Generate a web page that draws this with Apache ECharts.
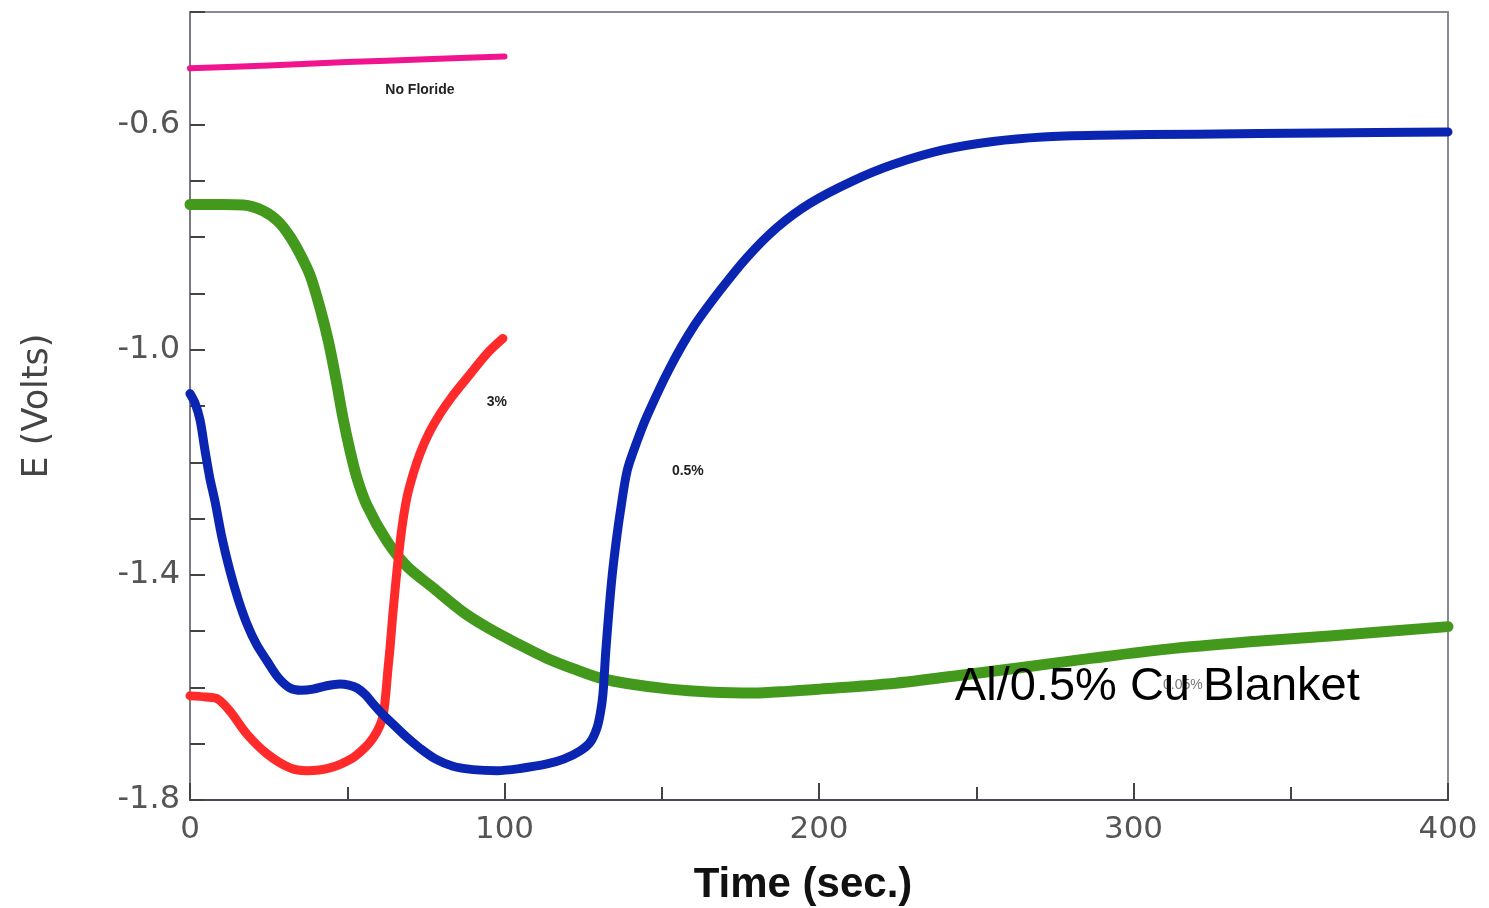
<!DOCTYPE html>
<html>
<head>
<meta charset="utf-8">
<script src="https://cdn.jsdelivr.net/npm/echarts@6/dist/echarts.min.js"></script>
<style>
html,body{margin:0;padding:0;background:#fff;}
#chart{width:1489px;height:908px;}
</style>
</head>
<body>
<div id="chart"></div>
<script>
// Time (sec.) / E (Volts) pairs
const noFluoride = [[0,-0.500],[25,-0.495],[50,-0.489],[75,-0.484],[100,-0.479]];

const cu005 = [[0,-0.742],[10,-0.742],[17,-0.743],[23.2,-0.753],[28,-0.772],[31.8,-0.799],
  [35,-0.830],[38.2,-0.868],[41.3,-0.925],[44,-0.985],[46.5,-1.055],[48.6,-1.120],[50.9,-1.180],
  [53.1,-1.228],[56.3,-1.277],[62.6,-1.340],[69,-1.385],[77.3,-1.423],[86.8,-1.466],[95,-1.495],
  [104,-1.522],[113.4,-1.548],[122,-1.567],[130.2,-1.583],[140,-1.594],[152.6,-1.603],
  [165,-1.608],[179,-1.610],[190,-1.607],[200.3,-1.603],[221.6,-1.594],[242.6,-1.580],
  [263.9,-1.565],[287,-1.548],[310.7,-1.532],[337,-1.519],[363.4,-1.508],[400,-1.492]];

const cu3 = [[0,-1.615],[5,-1.617],[8.6,-1.620],[12.7,-1.642],[18.1,-1.683],[24.5,-1.718],
  [31.8,-1.743],[37.2,-1.748],[44.5,-1.743],[51.8,-1.725],[56,-1.705],[58.2,-1.690],
  [60.2,-1.670],[61.4,-1.650],[62.2,-1.615],[62.9,-1.570],[63.6,-1.530],[64.5,-1.469],
  [65.8,-1.393],[67.3,-1.320],[69.0,-1.262],[71,-1.220],[73.1,-1.185],[76,-1.148],
  [79.5,-1.114],[83.5,-1.082],[88.1,-1.050],[94.4,-1.007],[99.5,-0.980]];

const cu05 = [[0,-1.078],[1.6,-1.095],[3.2,-1.125],[4.8,-1.180],[6.3,-1.228],[7.9,-1.268],
  [10.2,-1.335],[12.7,-1.393],[15.3,-1.443],[18.1,-1.487],[21.2,-1.524],[24.5,-1.553],
  [28,-1.582],[31.8,-1.601],[35.4,-1.605],[39.1,-1.603],[43.5,-1.597],[47.7,-1.594],
  [50.5,-1.596],[53.1,-1.601],[55.8,-1.613],[58.2,-1.629],[61.3,-1.648],[64.5,-1.665],
  [68.8,-1.688],[73.1,-1.708],[78,-1.727],[83.6,-1.740],[90,-1.746],[97.6,-1.748],
  [105,-1.744],[113.5,-1.736],[119,-1.727],[124,-1.713],[127.3,-1.697],[129.4,-1.672],
  [130.5,-1.645],[131.3,-1.612],[132.2,-1.536],[133.2,-1.465],[134.2,-1.403],[135.5,-1.341],
  [136.9,-1.285],[139.0,-1.215],[142,-1.165],[145.3,-1.118],[152.6,-1.032],[159.9,-0.961],
  [168.5,-0.895],[177.1,-0.836],[186.6,-0.783],[197.1,-0.740],[210.8,-0.700],[223.5,-0.671],
  [239.4,-0.645],[255.3,-0.630],[271.2,-0.622],[289.3,-0.619],[320,-0.617],[360,-0.615],
  [400,-0.613]];

const xTickLabels = [0,100,200,300,400];
const yTickLabels = [-0.6,-1.0,-1.4,-1.8];

// annotations: [text, x, y]
const annotations = [
  ['No Floride', 73.1, -0.538],
  ['3%', 97.6, -1.094],
  ['0.5%', 158.3, -1.215],
  ['0.05%', 315.7, -1.596]
];
const titleNote = ['Al/0.5% Cu Blanket', 243.2, -1.599];

const chart = echarts.init(document.getElementById('chart'));
const mk = (data, color, width) => ({
  type: 'line', data: data, showSymbol: false, smooth: 0.3,
  lineStyle: {color: color, width: width, cap: 'round', join: 'round'}, z: 3
});
chart.setOption({
  animation: false,
  backgroundColor: '#fff',
  grid: {left: 190, right: 41, top: 12, bottom: 108, show: true, borderColor: '#8a8a92', borderWidth: 2,
    containLabel: false, outerBoundsMode: 'none'},
  xAxis: {
    type: 'value', min: 0, max: 400, interval: 100,
    name: 'Time (sec.)', nameLocation: 'middle', nameGap: 64,
    nameTextStyle: {fontFamily: 'Liberation Sans', fontWeight: 'bold', fontSize: 42, color: '#111', padding: [0, 32, 0, 0]},
    axisLine: {show: true, lineStyle: {color: '#4a4a5a', width: 2}},
    axisTick: {show: true, inside: true, length: 17, lineStyle: {color: '#444', width: 2}},
    minorTick: {show: true, splitNumber: 2, length: 13, lineStyle: {color: '#444', width: 2}},
    splitLine: {show: false},
    axisLabel: {
      fontFamily: 'DejaVu Sans', fontSize: 31, color: '#555', margin: 14,
      formatter: v => xTickLabels.includes(v) ? String(v) : ''
    }
  },
  yAxis: {
    type: 'value', min: -1.8, max: -0.4, interval: 0.4,
    name: 'E (Volts)', nameLocation: 'middle', nameGap: 135, nameRotate: 90,
    nameTextStyle: {fontFamily: 'DejaVu Sans', fontSize: 35, color: '#444'},
    axisLine: {show: true, lineStyle: {color: '#7a7a82', width: 2}},
    axisTick: {show: true, inside: true, length: 15, lineStyle: {color: '#444', width: 2}},
    minorTick: {show: true, splitNumber: 4, length: 15, lineStyle: {color: '#444', width: 2}},
    splitLine: {show: false},
    axisLabel: {
      fontFamily: 'DejaVu Sans', fontSize: 32, color: '#555', margin: 10,
      formatter: v => {
        const r = Math.round(v * 10) / 10;
        return yTickLabels.includes(r) ? r.toFixed(1) : '';
      }
    }
  },
  series: [
    mk(noFluoride, '#f0158e', 6),
    mk(cu005, '#42991c', 11),
    mk(cu3, '#ff2b2b', 9),
    mk(cu05, '#0a25b2', 9)
  ]
});

const g = annotations.map((a, i) => {
  const p = chart.convertToPixel({gridIndex: 0}, [a[1], a[2]]);
  return {
    type: 'text', x: p[0], y: p[1], z: 10,
    style: {text: a[0], fill: i === 3 ? '#777' : '#222', font: (i === 3 ? '' : 'bold ') + '14px "Liberation Sans"',
      textAlign: 'center', textVerticalAlign: 'middle'}
  };
});
const tp = chart.convertToPixel({gridIndex: 0}, [titleNote[1], titleNote[2]]);
g.push({type: 'text', x: tp[0], y: tp[1], z: 11,
  style: {text: titleNote[0], fill: '#000', font: '47px "Liberation Sans"', textAlign: 'left', textVerticalAlign: 'middle'}});
chart.setOption({graphic: g});
</script>
</body>
</html>
